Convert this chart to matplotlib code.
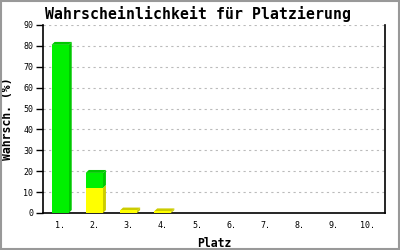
import numpy as np
import matplotlib
matplotlib.use("Agg")
import matplotlib.pyplot as plt
from matplotlib.patches import Polygon, Rectangle

# values
places = ["1.", "2.", "3.", "4.", "5.", "6.", "7.", "8.", "9.", "10."]
yellow_vals = [0.0, 12.0, 1.2, 0.8, 0.0, 0.0, 0.0, 0.0, 0.0, 0.0]
green_vals = [80.5, 7.2, 0.0, 0.0, 0.0, 0.0, 0.0, 0.0, 0.0, 0.0]
yticks = np.arange(0, 100, 10)

series = [
    (yellow_vals, "#ffff00", "#cccc00"),
    (green_vals, "#00f000", "#00c800"),
]

plt.rcParams["font.family"] = ["DejaVu Sans Mono"]

fig = plt.figure(figsize=(4, 2.5), dpi=100)
fig.patch.set_facecolor("white")
fig.patches.append(Rectangle((0.002, 0.004), 0.995, 0.994, transform=fig.transFigure,
                             fill=False, edgecolor="#999999", linewidth=1.5))

ax = fig.add_axes([0.1075, 0.148, 0.855, 0.752])
x = np.arange(len(places))
w = 0.5
dx, dy = 0.09, 1.4  # fake 3d depth

bottom = np.zeros(len(places))
for vals, col, dark in series:
    vals = np.array(vals)
    for i in range(len(places)):
        if vals[i] <= 0:
            continue
        x0 = x[i] - w / 2
        y0 = bottom[i]
        y1 = bottom[i] + vals[i]
        # side face
        ax.add_patch(Polygon([(x0 + w, y0), (x0 + w + dx, y0 + dy), (x0 + w + dx, y1 + dy), (x0 + w, y1)],
                             closed=True, facecolor=dark, edgecolor="none", zorder=3))
        ax.add_patch(Rectangle((x0, y0), w, vals[i], facecolor=col, edgecolor="none", zorder=4))
    bottom = bottom + vals

# top face on the topmost segment
for i in range(len(places)):
    if bottom[i] <= 0:
        continue
    dark = series[1][2] if green_vals[i] > 0 else series[0][2]
    x0 = x[i] - w / 2
    y1 = bottom[i]
    ax.add_patch(Polygon([(x0, y1), (x0 + dx, y1 + dy), (x0 + w + dx, y1 + dy), (x0 + w, y1)],
                         closed=True, facecolor=dark, edgecolor="none", zorder=3))

ax.set_xlim(-0.5, len(places) - 0.5)
ax.set_ylim(0, 90)
ax.set_yticks(yticks)
ax.set_xticks(x)
ax.set_xticklabels(places)
ax.tick_params(axis="y", labelsize=6, length=5, width=1, direction="out", pad=2)
ax.tick_params(axis="x", labelsize=6, length=0, pad=6)
ax.yaxis.grid(True, linestyle=(0, (2, 3)), color="#bbbbbb", linewidth=0.8)
ax.set_axisbelow(True)
ax.spines["top"].set_visible(False)
for s in ["left", "bottom", "right"]:
    ax.spines[s].set_linewidth(1.2)
    ax.spines[s].set_color("black")

ax.set_xlabel("Platz", fontsize=8.3, fontweight="bold", labelpad=5)
ax.set_ylabel("Wahrsch. (%)", fontsize=8.3, fontweight="bold", labelpad=7)
fig.text(0.495, 0.945, "Wahrscheinlichkeit für Platzierung", ha="center", va="center",
         fontsize=10.7, fontweight="bold")

fig.savefig("out.png", dpi=100)
